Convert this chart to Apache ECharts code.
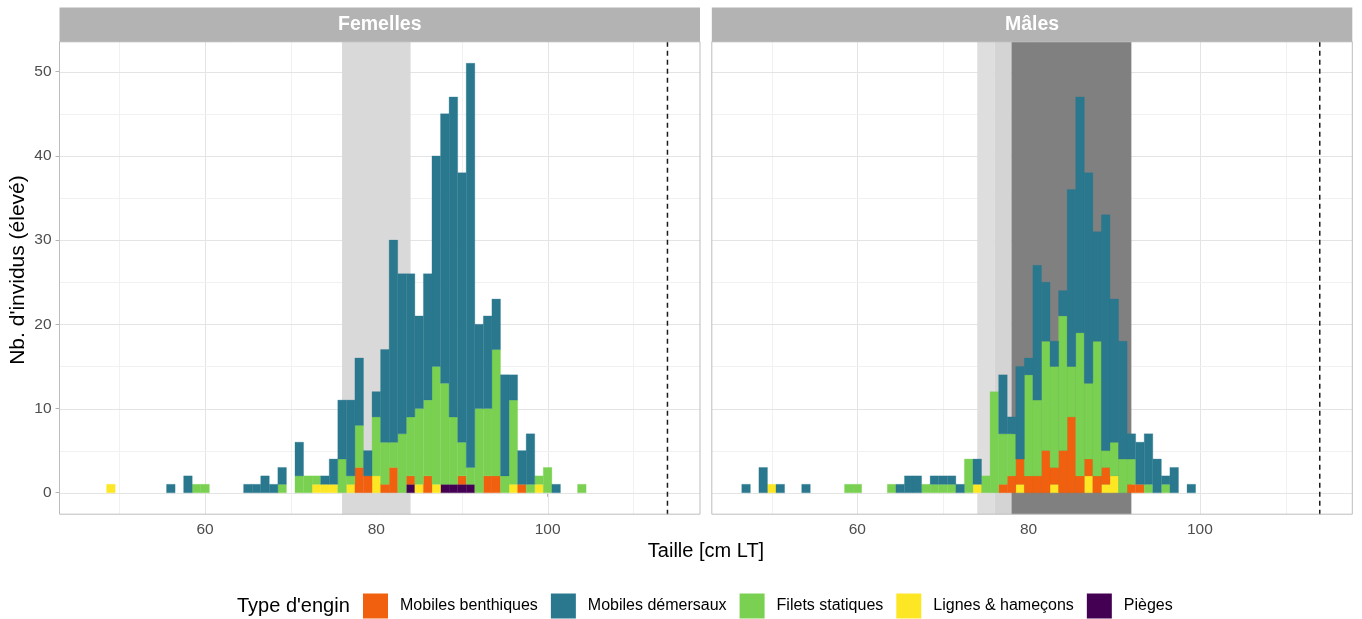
<!DOCTYPE html>
<html><head><meta charset="utf-8">
<script src="https://cdn.jsdelivr.net/npm/echarts@6/dist/echarts.min.js"></script>
<style>html,body{margin:0;padding:0;background:#fff}#c{width:1362px;height:619px}</style>
</head><body><div id="c"></div>
<script>
// ---------- DATA ----------
const panelNames = ['Femelles', 'Mâles'];
const gearNames = ['Mobiles benthiques', 'Mobiles démersaux', 'Filets statiques', 'Lignes & hameçons', 'Pièges'];
// stacking order, bottom -> top
const stackOrder = ['Pièges', 'Lignes & hameçons', 'Mobiles benthiques', 'Filets statiques', 'Mobiles démersaux'];

// Femelles : [taille (cm), nb]
const femPieges = [[84,1],[88,1],[89,1],[90,1],[91,1]];
const femLignes = [[49,1],[73,1],[74,1],[75,1],[77,1],[80,2],[85,1],[87,1],[96,1],[99,1]];
const femBenth  = [[78,3],[79,2],[81,1],[82,3],[84,1],[86,2],[90,1],[93,2],[94,2],[97,1]];
const femFilets = [[59,1],[60,1],[69,1],[71,2],[72,2],[73,1],[76,4],[77,1],[78,5],[80,7],[81,5],[82,3],[83,7],[84,7],[85,9],[86,9],[87,14],[88,12],[89,8],[90,4],[91,2],[92,10],[93,8],[94,15],[95,2],[96,10],[98,1],[99,1],[100,3],[104,1]];
const femDem    = [[56,1],[58,2],[65,1],[66,1],[67,2],[68,1],[69,2],[71,4],[74,1],[75,3],[76,7],[77,9],[78,8],[79,3],[80,3],[81,11],[82,24],[83,19],[84,17],[85,11],[86,15],[87,25],[88,32],[89,38],[90,32],[91,48],[92,10],[93,11],[94,6],[95,12],[96,3],[97,4],[98,6],[101,1]];

// Mâles : [taille (cm), nb]
const malPieges = [];
const malLignes = [[50,1],[74,1],[79,1],[83,1],[87,2],[89,1],[90,2]];
const malBenth  = [[77,1],[78,2],[79,3],[80,2],[81,2],[82,5],[83,2],[84,5],[85,9],[86,2],[87,2],[88,2],[89,2],[92,1],[93,1]];
const malFilets = [[59,1],[60,1],[64,1],[68,1],[69,1],[70,1],[71,1],[73,4],[75,2],[76,12],[77,6],[78,5],[80,12],[81,9],[82,13],[83,12],[84,16],[85,6],[86,17],[87,9],[88,16],[89,2],[90,4],[91,4],[92,3],[94,1],[96,1]];
const malDem    = [[47,1],[49,3],[51,1],[54,1],[65,1],[66,2],[67,2],[69,1],[70,1],[71,1],[72,1],[74,3],[77,7],[78,2],[79,11],[80,2],[81,16],[82,7],[83,3],[84,3],[85,21],[86,28],[87,25],[88,13],[89,28],[90,17],[91,14],[92,3],[93,5],[94,6],[95,4],[96,1],[97,3],[99,1]];

// shaded size ranges [from, to]
const femZones = [[76, 84]];
const malZones = [[74, 76], [76, 78], [78, 92]];
const refLine = 114;

// ticks
const xTicks = [60, 80, 100];
const xMinor = [50, 70, 90, 110];
const yTicks = [0, 10, 20, 30, 40, 50];
const yMinor = [5, 15, 25, 35, 45];

// ---------- STYLE ----------
const FONT = '"Liberation Sans", Arial, Helvetica, sans-serif';
const gearColors = {
  'Mobiles benthiques': '#F1600F',
  'Mobiles démersaux': '#2A788E',
  'Filets statiques': '#7AD151',
  'Lignes & hameçons': '#FDE725',
  'Pièges': '#440154'
};
const zoneColors = [['#d9d9d9'], ['#dedede', '#d4d4d4', '#808080']];

const panelsData = [
  {'Pièges': femPieges, 'Lignes & hameçons': femLignes, 'Mobiles benthiques': femBenth, 'Filets statiques': femFilets, 'Mobiles démersaux': femDem},
  {'Pièges': malPieges, 'Lignes & hameçons': malLignes, 'Mobiles benthiques': malBenth, 'Filets statiques': malFilets, 'Mobiles démersaux': malDem}
];
const panelZones = [femZones, malZones];

const X_MIN = 43.0, X_MAX = 117.8, Y_MIN = -2.55, Y_MAX = 53.55;
const gridPos = [
  {left: 59.5, top: 41.8, width: 640.5, height: 472.4},
  {left: 711.8, top: 41.8, width: 640.5, height: 472.4}
];

function stackSegments(byGear) {
  const base = {};
  const out = {};
  stackOrder.forEach(g => {
    out[g] = byGear[g].map(([x, n]) => {
      const b = base[x] || 0;
      base[x] = b + n;
      return [x, b, b + n];
    });
  });
  return out;
}

const series = [];
panelsData.forEach((byGear, p) => {
  // grid lines
  const gl = [];
  xTicks.forEach(v => gl.push([0, v, 1]));
  xMinor.forEach(v => gl.push([0, v, 0]));
  yTicks.forEach(v => gl.push([1, v, 1]));
  yMinor.forEach(v => gl.push([1, v, 0]));
  series.push({
    type: 'custom', name: '_grid' + p, xAxisIndex: p, yAxisIndex: p, z: 1, silent: true,
    data: gl,
    renderItem: (params, api) => {
      const cs = params.coordSys;
      const o = api.value(0), v = api.value(1), maj = api.value(2);
      let shape;
      if (o === 0) {
        const x = Math.round(api.coord([v, 0])[0]) + 0.5;
        shape = {x1: x, y1: cs.y, x2: x, y2: cs.y + cs.height};
      } else {
        const y = Math.round(api.coord([60, v])[1]) + 0.5;
        shape = {x1: cs.x, y1: y, x2: cs.x + cs.width, y2: y};
      }
      return {type: 'line', shape, style: {stroke: maj ? '#e4e4e4' : '#f1f1f1', lineWidth: 1}};
    }
  });
  // shaded zones
  series.push({
    type: 'custom', name: '_zones' + p, xAxisIndex: p, yAxisIndex: p, z: 2, silent: true,
    data: panelZones[p].map((z, i) => [z[0], z[1], i]),
    renderItem: (params, api) => {
      const cs = params.coordSys;
      const a = api.coord([api.value(0), 0])[0];
      const b = api.coord([api.value(1), 0])[0];
      return {type: 'rect', shape: {x: a, y: cs.y, width: b - a, height: cs.height},
              style: {fill: zoneColors[p][api.value(2)]}};
    }
  });
  // stacked histogram bars
  const segs = stackSegments(byGear);
  stackOrder.forEach(g => {
    series.push({
      type: 'custom', name: g, xAxisIndex: p, yAxisIndex: p, z: 3,
      itemStyle: {color: gearColors[g]},
      data: segs[g],
      renderItem: (params, api) => {
        const x = api.value(0), y0 = api.value(1), y1 = api.value(2);
        const p0 = api.coord([x - 0.5, y0]);
        const p1 = api.coord([x + 0.5, y1]);
        return {type: 'rect', shape: {x: p0[0], y: p1[1], width: p1[0] - p0[0], height: p0[1] - p1[1]},
                style: {fill: gearColors[g], stroke: gearColors[g], lineWidth: 0.3}};
      }
    });
  });
  // dashed reference line
  series.push({
    type: 'custom', name: '_ref' + p, xAxisIndex: p, yAxisIndex: p, z: 4, silent: true,
    data: [[refLine]],
    renderItem: (params, api) => {
      const cs = params.coordSys;
      const x = api.coord([api.value(0), 0])[0];
      return {type: 'line', shape: {x1: x, y1: cs.y, x2: x, y2: cs.y + cs.height},
              style: {stroke: '#1a1a1a', lineWidth: 1.5, lineDash: [5, 4]}};
    }
  });
  // panel frame
  series.push({
    type: 'custom', name: '_frame' + p, xAxisIndex: p, yAxisIndex: p, z: 5, silent: true, clip: false,
    data: [[0]],
    renderItem: (params, api) => {
      const cs = params.coordSys;
      return {type: 'rect', shape: {x: cs.x, y: cs.y, width: cs.width, height: cs.height},
              style: {fill: 'none', stroke: '#bdbdbd', lineWidth: 1}};
    }
  });
});

const xAxes = gridPos.map((g, i) => ({
  gridIndex: i, type: 'value', min: X_MIN, max: X_MAX,
  axisLine: {show: false}, splitLine: {show: false},
  axisTick: {show: true, customValues: xTicks, length: 4, lineStyle: {color: '#b3b3b3', width: 1}},
  axisLabel: {customValues: xTicks, fontSize: 15.5, color: '#4d4d4d', fontFamily: FONT, margin: 8}
}));
const yAxes = gridPos.map((g, i) => ({
  gridIndex: i, type: 'value', min: Y_MIN, max: Y_MAX,
  axisLine: {show: false}, splitLine: {show: false},
  axisTick: {show: i === 0, customValues: yTicks, length: 4, lineStyle: {color: '#b3b3b3', width: 1}},
  axisLabel: {show: i === 0, customValues: yTicks, fontSize: 15.5, color: '#4d4d4d', fontFamily: FONT, margin: 8}
}));

const graphics = [];
panelNames.forEach((name, i) => {
  const g = gridPos[i];
  graphics.push({type: 'rect', z: 10, shape: {x: g.left, y: 7.5, width: g.width, height: 34.3}, style: {fill: '#b3b3b3'}});
  graphics.push({type: 'text', z: 11, x: g.left + g.width / 2, y: 25,
    style: {text: name, fill: '#ffffff', fontSize: 19.5, fontWeight: 'bold', fontFamily: FONT, align: 'center', verticalAlign: 'middle'}});
});
graphics.push({type: 'text', x: 706, y: 551,
  style: {text: 'Taille [cm LT]', fill: '#000', fontSize: 20, fontFamily: FONT, align: 'center', verticalAlign: 'middle'}});
graphics.push({type: 'text', x: 18, y: 270, rotation: Math.PI / 2,
  style: {text: "Nb. d'invidus (élevé)", fill: '#000', fontSize: 21, fontFamily: FONT, align: 'center', verticalAlign: 'middle'}});
graphics.push({type: 'text', x: 237, y: 606,
  style: {text: "Type d'engin", fill: '#000', fontSize: 20, fontFamily: FONT, align: 'left', verticalAlign: 'middle'}});

const option = {
  animation: false,
  backgroundColor: '#ffffff',
  grid: gridPos.map(g => Object.assign({containLabel: false}, g)),
  xAxis: xAxes,
  yAxis: yAxes,
  legend: {
    data: gearNames, left: 363, top: 593.5, orient: 'horizontal', padding: 0,
    icon: 'rect', itemWidth: 25, itemHeight: 25, itemGap: 13, selectedMode: false,
    textStyle: {fontSize: 16, color: '#000', fontFamily: FONT, padding: [0, 0, 0, 7]}
  },
  graphic: graphics,
  series: series
};

const chart = echarts.init(document.getElementById('c'), null, {renderer: 'canvas', width: 1362, height: 619});
chart.setOption(option);
</script>
</body></html>
